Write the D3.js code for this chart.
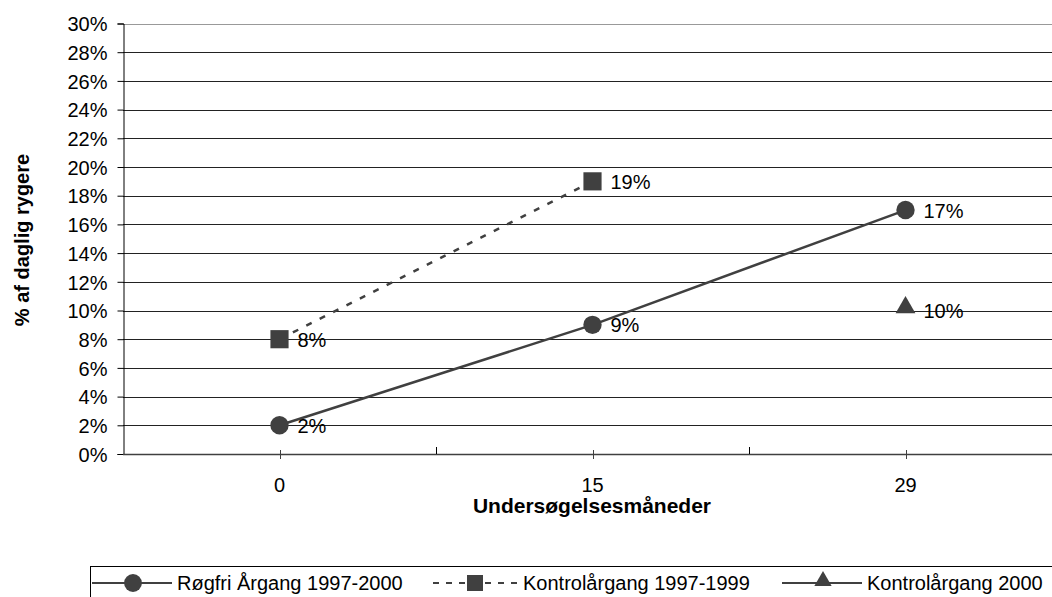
<!DOCTYPE html>
<html>
<head>
<meta charset="utf-8">
<script src="https://cdn.jsdelivr.net/npm/d3@7"></script>
<style>
body { margin: 0; background: #fff; }
text { font-family: "Liberation Sans", Arial, sans-serif; fill: #000; }
</style>
</head>
<body>
<svg id="chart" width="1052" height="597"></svg>
<script>
// data
var months = ["0", "15", "29"];
var roegfri = [2, 9, 17];           // Røgfri Årgang 1997-2000
var kontrol9799 = [8, 19, null];    // Kontrolårgang 1997-1999
var kontrol2000 = [null, null, 10]; // Kontrolårgang 2000
var yTicks = d3.range(0, 31, 2);

var svg = d3.select("#chart");
var ink = "#404040";
var fs = "20px";

// ========== scales
var x = d3.scaleBand().domain(months).range([123, 1062]).paddingInner(0).paddingOuter(0);
var y = d3.scaleLinear().domain([0, 30]).range([454, 23.5]);
var cx = function(m) { return x(m) + x.bandwidth() / 2; };

// ========== grid lines
svg.append("g").attr("class", "grid")
  .selectAll("line")
  .data(yTicks.filter(function(d) { return d > 0; }))
  .enter().append("line")
    .attr("x1", 123).attr("x2", 1052)
    .attr("y1", function(d) { return Math.round(y(d)) + 0.5; })
    .attr("y2", function(d) { return Math.round(y(d)) + 0.5; })
    .attr("stroke", function(d) { return d == 30 ? "#999" : "#222"; })
    .attr("stroke-width", 1);

// ========== y axis
var yAxis = svg.append("g")
  .attr("transform", "translate(123.5,0)")
  .call(d3.axisLeft(y).tickValues(yTicks).tickSize(6).tickPadding(10)
        .tickFormat(function(d) { return d + "%"; }));
yAxis.select(".domain").attr("stroke", "#000");
yAxis.selectAll(".tick line").attr("stroke", "#000");
yAxis.selectAll("text").style("font-size", fs).attr("fill", "#000").attr("dy", "0.36em")
  .style("font-family", "'Liberation Sans', Arial, sans-serif");

// ========== x axis
var xg = svg.append("g").attr("class", "x-axis");
xg.append("line")
  .attr("x1", 123).attr("x2", 1052).attr("y1", 454.5).attr("y2", 454.5)
  .attr("stroke", ink).attr("stroke-width", 1.5);
// boundary ticks between bands
xg.selectAll(".bt").data(months.slice(1))
  .enter().append("line")
    .attr("x1", function(d) { return Math.round(x(d)) + 0.5; })
    .attr("x2", function(d) { return Math.round(x(d)) + 0.5; })
    .attr("y1", 447).attr("y2", 454)
    .attr("stroke", "#000");
// ticks at category centres
xg.selectAll(".ct").data(months)
  .enter().append("line")
    .attr("x1", function(d) { return Math.round(cx(d)) + 0.5; })
    .attr("x2", function(d) { return Math.round(cx(d)) + 0.5; })
    .attr("y1", 450).attr("y2", 459)
    .attr("stroke", ink);
xg.selectAll(".lbl").data(months)
  .enter().append("text")
    .attr("x", function(d) { return cx(d); })
    .attr("y", 492)
    .attr("text-anchor", "middle")
    .style("font-size", fs)
    .text(function(d) { return d; });

// ========== titles
svg.append("text")
  .attr("x", 592).attr("y", 513)
  .attr("text-anchor", "middle")
  .style("font-size", "21px").style("font-weight", "bold")
  .text("Undersøgelsesmåneder");

svg.append("text")
  .attr("transform", "translate(29,240) rotate(-90)")
  .attr("text-anchor", "middle")
  .style("font-size", fs).style("font-weight", "bold")
  .text("% af daglig rygere");

// ========== lines
function seriesPts(vals) {
  return months.map(function(m, i) { return {m: m, v: vals[i]}; })
               .filter(function(d) { return d.v != null; });
}
var line = d3.line()
  .x(function(d) { return cx(d.m); })
  .y(function(d) { return y(d.v); });

svg.append("path")
  .attr("d", line(seriesPts(kontrol9799)))
  .attr("fill", "none").attr("stroke", ink).attr("stroke-width", 2.5)
  .attr("stroke-dasharray", "6,9");

svg.append("path")
  .attr("d", line(seriesPts(roegfri)))
  .attr("fill", "none").attr("stroke", ink).attr("stroke-width", 2.5);

// ========== markers
var sym = {
  circle: d3.symbol().type(d3.symbolCircle).size(265),
  square: d3.symbol().type(d3.symbolSquare).size(330),
  triangle: d3.symbol().type(d3.symbolTriangle).size(170)
};

function drawMarkers(vals, shape) {
  var pts = seriesPts(vals);
  svg.append("g").selectAll("path")
    .data(pts).enter().append("path")
      .attr("d", sym[shape])
      .attr("transform", function(d) {
        var dy = shape == "triangle" ? -3 : 0;
        return "translate(" + cx(d.m) + "," + (y(d.v) + dy) + ")";
      })
      .attr("fill", ink);
  svg.append("g").selectAll("text")
    .data(pts).enter().append("text")
      .attr("x", function(d) { return cx(d.m) + 18; })
      .attr("y", function(d) { return y(d.v) + 7.5; })
      .style("font-size", fs)
      .text(function(d) { return d.v + "%"; });
}
drawMarkers(roegfri, "circle");
drawMarkers(kontrol9799, "square");
drawMarkers(kontrol2000, "triangle");

// ========== legend
svg.append("rect")
  .attr("x", 90.5).attr("y", 566.5).attr("width", 1000).attr("height", 40)
  .attr("fill", "#fff").attr("stroke", "#000");

var legend = [
  {name: "Røgfri Årgang 1997-2000", shape: "circle", dash: null, x: 92},
  {name: "Kontrolårgang 1997-1999", shape: "square", dash: "6,7", x: 433},
  {name: "Kontrolårgang 2000", shape: "triangle", dash: null, x: 782}
];
var ly = 583;
var items = svg.selectAll(".leg").data(legend).enter().append("g")
  .attr("transform", function(d) { return "translate(" + d.x + "," + ly + ")"; });
items.append("line")
  .attr("x1", 0).attr("x2", function(d) { return d.shape == "square" ? 84 : 80; })
  .attr("y1", 0).attr("y2", 0)
  .attr("stroke", ink).attr("stroke-width", 2)
  .attr("stroke-dasharray", function(d) { return d.dash; });
items.append("path")
  .attr("d", function(d) {
    var t = d.shape == "circle" ? d3.symbolCircle : d.shape == "square" ? d3.symbolSquare : d3.symbolTriangle;
    return d3.symbol().type(t).size(d.shape == "circle" ? 250 : d.shape == "square" ? 256 : 130)();
  })
  .attr("transform", function(d) { return "translate(" + (d.shape == "square" ? 42 : 41) + "," + (d.shape == "triangle" ? -2 : 0) + ")"; })
  .attr("fill", ink);
items.append("text")
  .attr("x", function(d) { return d.shape == "square" ? 90 : 85; })
  .attr("y", 7)
  .style("font-size", fs)
  .text(function(d) { return d.name; });
</script>
</body>
</html>
